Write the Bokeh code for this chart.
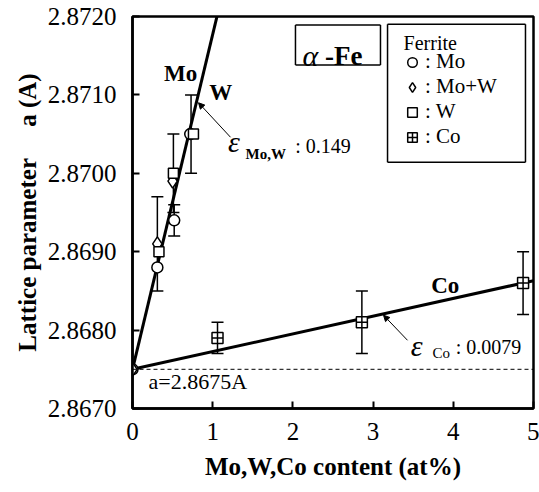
from bokeh.plotting import figure
from bokeh.models import (Range1d, FixedTicker, PrintfTickFormatter, ColumnDataSource,
                          Whisker, TeeHead, Span, Label, Arrow, NormalHead,
                          Legend, LegendItem)
from bokeh.embed import file_html
from bokeh.resources import INLINE

# ---- data ----
mo_x = [0.0, 0.31, 0.52, 0.72]
mo_y = [2.8675, 2.8688, 2.8694, 2.8705]
mow_x = [0.0, 0.31, 0.50]
mow_y = [2.8675, 2.8691, 2.8699]
w_x = [0.33, 0.51, 0.76]
w_y = [2.8690, 2.8700, 2.8705]
co_x = [1.06, 2.86, 4.87]
co_y = [2.8679, 2.8681, 2.8686]

err_x = [0.31, 0.52, 0.51, 0.73, 1.06, 2.86, 4.87]
err_y = [2.8691, 2.8694, 2.8700, 2.8705, 2.8679, 2.8681, 2.8686]
err_d = [0.0006, 0.0002, 0.0005, 0.0005, 0.0002, 0.0004, 0.0004]

mow_fit_x = [0.0, 1.1]
mow_fit_y = [2.8675, 2.8722]
co_fit_x = [0.0, 5.0]
co_fit_y = [2.8675, 2.86863]

a0 = 2.8675
x_ticks = [0, 1, 2, 3, 4, 5]
y_ticks = [2.867, 2.868, 2.869, 2.870, 2.871, 2.872]

SERIF = "Liberation Serif"

p = figure(width=539, height=492, output_backend="svg", toolbar_location=None,
           x_range=Range1d(0, 5), y_range=Range1d(2.8670, 2.8720),
           min_border_left=132, min_border_right=6, min_border_top=16, min_border_bottom=84)
p.background_fill_color = "white"
p.border_fill_color = "white"
p.grid.visible = False
p.outline_line_color = "black"
p.outline_line_width = 2.5

for ax in (p.xaxis[0], p.yaxis[0]):
    ax.axis_line_width = 2.5
    ax.major_tick_in = 7
    ax.major_tick_out = 0
    ax.major_tick_line_width = 2
    ax.minor_tick_line_color = None
    ax.major_label_text_font = SERIF
    ax.major_label_text_font_size = "25px"
    ax.major_label_text_color = "black"
    ax.axis_label_text_font = SERIF
    ax.axis_label_text_font_style = "bold"
    ax.axis_label_text_font_size = "25px"
    ax.axis_label_text_color = "black"

p.xaxis.ticker = FixedTicker(ticks=x_ticks)
p.yaxis.ticker = FixedTicker(ticks=y_ticks)
p.yaxis.formatter = PrintfTickFormatter(format="%.4f")
p.xaxis.major_label_standoff = 14
p.yaxis.major_label_standoff = 16
p.xaxis.axis_label = "Mo,W,Co content (at%)"
p.yaxis.axis_label = "Lattice parameter\u00a0\u00a0\u00a0\u00a0\u00a0a (A)"
p.xaxis.axis_label_standoff = 10
p.yaxis.axis_label_standoff = 4

# reference line
p.add_layout(Span(location=a0, dimension="width", line_color="black",
                  line_width=1, line_dash="4 3"))

# fit lines
p.line(mow_fit_x, mow_fit_y, line_color="black", line_width=3)
p.line(co_fit_x, co_fit_y, line_color="black", line_width=3)

# error bars
esrc = ColumnDataSource(dict(x=err_x,
                             upper=[y + d for y, d in zip(err_y, err_d)],
                             lower=[y - d for y, d in zip(err_y, err_d)]))
p.add_layout(Whisker(source=esrc, base="x", upper="upper", lower="lower",
                     line_color="black", line_width=1.5,
                     upper_head=TeeHead(size=12, line_width=1.5, line_color="black"),
                     lower_head=TeeHead(size=12, line_width=1.5, line_color="black")))

# markers
r_mo = p.scatter(mo_x, mo_y, marker="circle", size=11, fill_color="white",
                 line_color="black", line_width=1.5)
r_mow = p.scatter(mow_x, mow_y, marker="diamond", size=14, fill_color="white",
                  line_color="black", line_width=1.5)
r_w = p.scatter(w_x, w_y, marker="square", size=10, fill_color="white",
                line_color="black", line_width=1.5)
r_co = p.scatter(co_x, co_y, marker="square_cross", size=11, fill_color="white",
                 line_color="black", line_width=1.5)

p.add_layout(Label(x=3.38, y=2.87166, text="Ferrite", text_font=SERIF,
                   text_font_size="20px", text_color="black", text_baseline="middle"))
legend = Legend(items=[LegendItem(label=": Mo", renderers=[r_mo]),
                       LegendItem(label=": Mo+W", renderers=[r_mow]),
                       LegendItem(label=": W", renderers=[r_w]),
                       LegendItem(label=": Co", renderers=[r_co])],
                location=(259, 251), orientation="vertical",
                border_line_alpha=0, background_fill_alpha=0,
                label_text_font=SERIF, label_text_font_size="21px",
                label_text_color="black",
                padding=8, margin=0, spacing=0, label_height=24,
                glyph_height=24, glyph_width=26, label_standoff=0)
p.add_layout(legend, "center")

p.add_layout(Label(x=2.12, y=2.87150, text="\u03b1", text_font=SERIF, text_color="black",
                   text_font_style="italic", text_font_size="30px",
                   text_baseline="alphabetic"))
p.add_layout(Label(x=2.40, y=2.87150, text="-Fe", text_font=SERIF, text_color="black",
                   text_font_style="bold", text_font_size="27px",
                   text_baseline="alphabetic"))

# series labels
for txt, x, y in [("Mo", 0.60, 2.87127), ("W", 1.10, 2.87103), ("Co", 3.90, 2.86857)]:
    p.add_layout(Label(x=x, y=y, text=txt, text_font=SERIF, text_font_style="bold",
                       text_color="black", text_font_size="23px",
                       text_align="center", text_baseline="middle"))

# epsilon annotations
p.add_layout(Arrow(x_start=1.222, y_start=2.87046, x_end=0.823, y_end=2.87090,
                   line_width=1, line_color="black",
                   end=NormalHead(size=6, fill_color="black", line_color="black")))
p.add_layout(Label(x=1.19, y=2.87041, text="\u03b5", text_font=SERIF, text_color="black",
                   text_font_style="italic", text_font_size="30px",
                   text_baseline="alphabetic"))
p.add_layout(Label(x=1.41, y=2.87025, text="Mo,W", text_font=SERIF, text_color="black",
                   text_font_style="bold", text_font_size="15px",
                   text_baseline="alphabetic"))
p.add_layout(Label(x=2.03, y=2.87035, text=": 0.149", text_font=SERIF, text_color="black",
                   text_font_size="20px", text_baseline="alphabetic"))

p.add_layout(Arrow(x_start=3.429, y_start=2.86787, x_end=3.130, y_end=2.86819,
                   line_width=1, line_color="black",
                   end=NormalHead(size=6, fill_color="black", line_color="black")))
p.add_layout(Label(x=3.47, y=2.86780, text="\u03b5", text_font=SERIF, text_color="black",
                   text_font_style="italic", text_font_size="30px",
                   text_baseline="alphabetic"))
p.add_layout(Label(x=3.74, y=2.86771, text="Co", text_font=SERIF, text_color="black",
                   text_font_size="15px", text_baseline="alphabetic"))
p.add_layout(Label(x=4.03, y=2.86778, text=": 0.0079", text_font=SERIF, text_color="black",
                   text_font_size="20px", text_baseline="alphabetic"))

p.add_layout(Label(x=0.20, y=2.86734, text="a=2.8675A", text_font=SERIF, text_color="black",
                   text_font_size="22px", text_baseline="middle"))


# outline frames of the legend and the alpha-Fe tag, as four edge segments each
def frame_edges(left, right, bottom, top):
    corners = [(left, bottom), (right, bottom), (right, top), (left, top), (left, bottom)]
    for (xa, ya), (xb, yb) in zip(corners[:-1], corners[1:]):
        p.add_layout(Arrow(x_start=xa, y_start=ya, x_end=xb, y_end=yb, end=None,
                           line_color="black", line_width=1.5, level="overlay"))


frame_edges(3.18, 4.90, 2.87014, 2.87190)
frame_edges(2.032, 3.092, 2.87138, 2.87189)

open("out.html", "w").write(file_html(p, INLINE))
